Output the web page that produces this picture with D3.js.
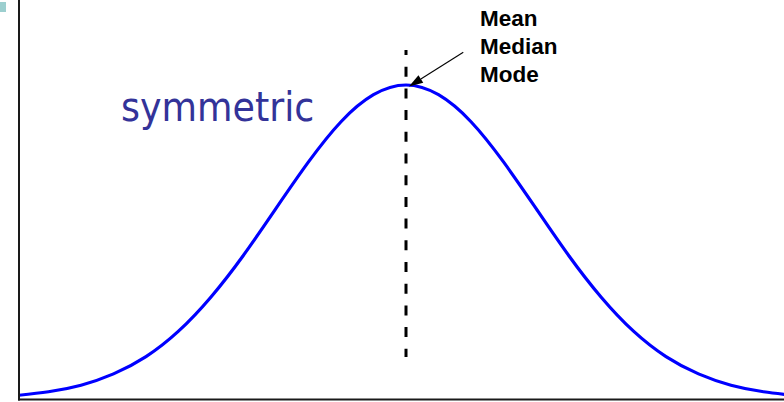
<!DOCTYPE html>
<html>
<head>
<meta charset="utf-8">
<script src="https://cdn.jsdelivr.net/npm/d3@7"></script>
<style>
html,body{margin:0;padding:0;background:#fff;}
svg{display:block;}
</style>
</head>
<body>
<svg id="chart" width="784" height="402"></svg>
<script>
// Standardized positions (z) and relative heights
const zValues = [-3, -2.75, -2.5, -2.25, -2, -1.75, -1.5, -1.25, -1, -0.75, -0.5, -0.25, 0,
                 0.25, 0.5, 0.75, 1, 1.25, 1.5, 1.75, 2, 2.25, 2.5, 2.75, 3];
const density = [0.011, 0.023, 0.044, 0.080, 0.135, 0.216, 0.325, 0.458, 0.607, 0.755, 0.883, 0.969, 1.0,
                 0.969, 0.883, 0.755, 0.607, 0.458, 0.325, 0.216, 0.135, 0.080, 0.044, 0.023, 0.011];
const centerLabels = ["Mean", "Median", "Mode"];
const shapeLabel = "symmetric";
const centerValue = 0;

const svg = d3.select("#chart");
const W = 784, H = 402;
const plot = {left: 19, right: 784, bottom: 399};

const x = d3.scaleLinear().domain([-3, 3]).range([16, 796]);
const y = d3.scaleLinear().domain([0, 1]).range([399, 85]);

// small corner square
svg.append("rect").attr("x", 0).attr("y", 2).attr("width", 6).attr("height", 10).attr("fill", "#9ccfcf");

svg.append("defs").append("clipPath").attr("id", "clip")
  .append("rect").attr("x", plot.left).attr("y", 0).attr("width", plot.right - plot.left).attr("height", plot.bottom);

// curve
const pts = zValues.map((z, i) => [z, density[i]]);
const line = d3.line().x(d => x(d[0])).y(d => y(d[1])).curve(d3.curveNatural);
svg.append("path").datum(pts)
  .attr("clip-path", "url(#clip)")
  .attr("d", line)
  .attr("fill", "none")
  .attr("stroke", "#0000ff")
  .attr("stroke-width", 3.2)
  .attr("stroke-linejoin", "round");

// dashed center line
svg.append("line")
  .attr("x1", x(centerValue)).attr("x2", x(centerValue))
  .attr("y1", 50).attr("y2", 357)
  .attr("stroke", "#000")
  .attr("stroke-width", 3)
  .attr("stroke-dasharray", "10,11.7")
  .attr("stroke-dashoffset", 5);

// axes
svg.append("line").attr("x1", plot.left).attr("x2", plot.left).attr("y1", 0).attr("y2", 400.5)
  .attr("stroke", "#1a1a1a").attr("stroke-width", 2);
svg.append("line").attr("x1", plot.left - 1).attr("x2", W).attr("y1", 399.6).attr("y2", 399.6)
  .attr("stroke", "#1a1a1a").attr("stroke-width", 2);

// arrow
const tipX = x(centerValue) + 3, tipY = y(1) + 1.5;
const startX = 463.3, startY = 52.3;
const ang = Math.atan2(tipY - startY, tipX - startX);
const hl = 14, hw = 4.5;
const bx = tipX - hl * Math.cos(ang), by = tipY - hl * Math.sin(ang);
svg.append("line").attr("x1", startX).attr("y1", startY).attr("x2", bx).attr("y2", by)
  .attr("stroke", "#000").attr("stroke-width", 1.1);
svg.append("path")
  .attr("d", `M${tipX},${tipY}L${bx - hw * Math.sin(ang)},${by + hw * Math.cos(ang)}L${bx + hw * Math.sin(ang)},${by - hw * Math.cos(ang)}Z`)
  .attr("fill", "#000");

// labels
svg.append("g").selectAll("text").data(centerLabels).join("text")
  .attr("x", 480)
  .attr("y", (d, i) => 25.5 + i * 28)
  .attr("font-family", "'Liberation Sans', Arial, sans-serif")
  .attr("font-weight", "bold")
  .attr("font-size", 22.5)
  .attr("fill", "#000")
  .text(d => d);

svg.append("text")
  .attr("x", 121).attr("y", 121)
  .attr("font-family", "'DejaVu Sans Condensed', 'DejaVu Sans', sans-serif")
  .style("font-stretch", "condensed")
  .attr("font-size", 40.5)
  .attr("fill", "#333399")
  .text(shapeLabel);
</script>
</body>
</html>
